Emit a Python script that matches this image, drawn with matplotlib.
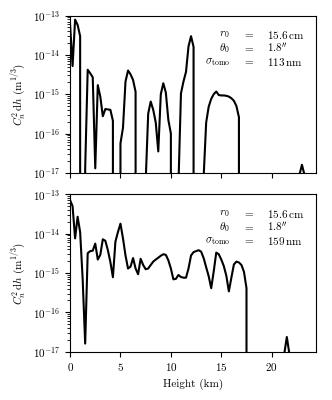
import numpy as np
import matplotlib
matplotlib.use("Agg")
import matplotlib.pyplot as plt

plt.rcParams['font.family'] = 'serif'
plt.rcParams['font.serif'] = ['cmr10']
plt.rcParams['mathtext.fontset'] = 'cm'
plt.rcParams['axes.formatter.use_mathtext'] = True
plt.rcParams['font.size'] = 8

# Top panel: Cn2 dh profile (zeros fall below the log axis)
top_height = [0.0, 0.25, 0.5, 0.75, 1.0, 1.25,
              1.5, 1.75, 2.0, 2.25, 2.5, 2.75, 3.0, 3.25, 3.5, 3.75, 4.0, 4.25, 4.5,
              5.0, 5.25, 5.5, 5.75, 6.0, 6.25, 6.5, 7.0,
              7.5, 7.75, 8.0, 8.25, 8.5, 8.75, 9.0, 9.25, 9.5, 9.75, 10.0, 10.25,
              10.75, 11.0, 11.25, 11.5, 11.75, 12.0, 12.25, 12.75,
              13.25, 13.5, 13.75, 14.0, 14.25, 14.5, 14.75, 15.0, 15.25, 15.5,
              15.75, 16.0, 16.25, 16.5, 16.75, 17.0,
              22.75, 23.0, 23.25, 23.5]
top_cn2 = [6.0e-14, 5.2e-15, 7.9e-14, 5.8e-14, 3.0e-14, 0,
           1.3e-17, 4.2e-15, 3.4e-15, 2.7e-15, 1.3e-17, 1.7e-15, 8.7e-16, 2.75e-16, 4.2e-16, 4.1e-16, 4.0e-16, 2.1e-16, 0,
           5.6e-17, 1.4e-16, 2.1e-15, 4.0e-15, 3.2e-15, 2.3e-15, 1.15e-15, 0,
           6e-18, 3.2e-16, 6.5e-16, 4.0e-16, 1.9e-16, 3.5e-17, 1.0e-15, 1.9e-15, 1.1e-15, 2.2e-16, 1.0e-16, 0,
           5e-18, 1.05e-15, 2.1e-15, 3.7e-15, 1.65e-14, 3.0e-14, 1.6e-14, 0,
           8e-18, 1.9e-16, 4.8e-16, 7.6e-16, 1.0e-15, 1.17e-15, 9.5e-16, 9.3e-16, 9.3e-16, 9.1e-16,
           8.7e-16, 7.9e-16, 6.8e-16, 5.0e-16, 2.6e-16, 0,
           8.9e-18, 1.6e-17, 8.9e-18, 0]

# Bottom panel
bot_height = [0.0, 0.25, 0.5, 0.75, 1.0, 1.25, 1.5, 1.75, 2.0, 2.25, 2.5, 2.75,
              3.0, 3.25, 3.5, 3.75, 4.0, 4.25, 4.5, 4.75, 5.0, 5.25, 5.5, 5.75,
              6.0, 6.25, 6.5, 6.75, 7.0, 7.25, 7.5, 7.75, 8.0, 8.25, 8.5, 8.75,
              9.0, 9.25, 9.5, 9.75, 10.0, 10.25, 10.5, 10.75, 11.0, 11.25, 11.5, 11.75,
              12.0, 12.25, 12.5, 12.75, 13.0, 13.25, 13.5, 13.75, 14.0, 14.25, 14.5, 14.75,
              15.0, 15.25, 15.5, 15.75, 16.0, 16.25, 16.5, 16.75, 17.0, 17.25, 17.5, 17.75,
              21.0, 21.25, 21.5, 21.75, 22.0]
bot_cn2 = [7.2e-14, 5.0e-14, 7.6e-15, 2.7e-14, 1.1e-14, 7.1e-16, 1.6e-17, 3.2e-15, 3.6e-15, 3.7e-15, 5.6e-15, 2.2e-15,
           2.9e-15, 7.2e-15, 6.6e-15, 3.8e-15, 1.9e-15, 7.8e-16, 6.3e-15, 1.1e-14, 1.8e-14, 7.6e-15, 2.8e-15, 1.3e-15,
           1.45e-15, 2.4e-15, 1.3e-15, 9.3e-16, 2.3e-15, 1.6e-15, 1.25e-15, 1.3e-15, 1.6e-15, 1.95e-15, 2.2e-15, 2.45e-15,
           2.75e-15, 3.0e-15, 2.9e-15, 2.1e-15, 1.3e-15, 6.9e-16, 7.1e-16, 8.9e-16, 7.9e-16, 7.6e-16, 7.6e-16, 1.3e-15,
           2.8e-15, 3.4e-15, 3.6e-15, 3.8e-15, 3.5e-15, 2.4e-15, 1.4e-15, 8.3e-16, 4.1e-16, 1.1e-15, 3.3e-15, 3.0e-15,
           2.2e-15, 1.5e-15, 8.5e-16, 3.4e-16, 7.6e-16, 1.65e-15, 1.95e-15, 1.85e-15, 1.6e-15, 1.07e-15, 4.1e-16, 0,
           0, 8.9e-18, 2.35e-17, 8.9e-18, 0]

r0_text = r"$15.6\,\mathrm{cm}$"
theta0_text = r"$1.8''$"
sigma_text = ["$113\\,\\mathrm{nm}$", "$159\\,\\mathrm{nm}$"]

fig = plt.figure(figsize=(3.32, 4.0), dpi=100)
ax1 = fig.add_axes([0.211, 0.568, 0.741, 0.393])
ax2 = fig.add_axes([0.211, 0.121, 0.741, 0.393])

for ax, h, v, sig in [(ax1, top_height, top_cn2, sigma_text[0]),
                      (ax2, bot_height, bot_cn2, sigma_text[1])]:
    ax.plot(h, v, color='k', lw=1.5)
    ax.set_yscale('log')
    ax.set_ylim(1e-17, 1e-13)
    ax.set_xlim(0, 24.4)
    ax.set_xticks([0, 5, 10, 15, 20])
    ax.set_ylabel(r"$C_n^2\,\mathrm{d}h\ (\mathrm{m}^{1/3})$")
    rows = [(r"$r_0$", r0_text), (r"$\theta_0$", theta0_text),
            (r"$\sigma_{\rm tomo}$", sig)]
    for i, (lab, val) in enumerate(rows):
        y = 0.877 - 0.086 * i
        ax.text(0.65, y, lab, transform=ax.transAxes, ha='right', va='center')
        ax.text(0.728, y, r"$=$", transform=ax.transAxes, ha='center', va='center')
        ax.text(0.80, y, val, transform=ax.transAxes, ha='left', va='center')

ax1.set_xticklabels([])
ax2.set_xlabel("Height (km)")

fig.savefig("out.png", dpi=100)
